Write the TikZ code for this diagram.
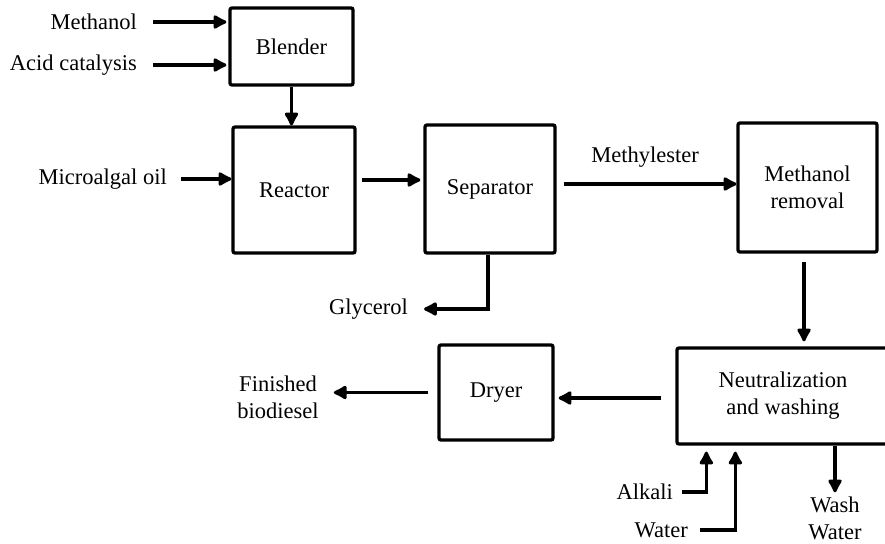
\documentclass[tikz,border=0pt]{standalone}
\usepackage{fontspec}
\setmainfont{Liberation Serif}
\usetikzlibrary{arrows.meta}
\begin{document}
\begin{tikzpicture}[x=1pt,y=-1pt,
  every node/.style={font=\fontsize{22.5}{27}\selectfont},
  box/.style={draw,line width=3.3pt,rounded corners=2pt,align=center,inner sep=0pt},
  lbl/.style={inner sep=0pt,align=center},
  arr/.style={line width=3.3pt,-{Latex[length=16pt,width=17pt,round]}}]
\clip (0,0) rectangle (885,543);
\fill[white] (0,0) rectangle (885,543);
% boxes
\node[box,minimum width=123pt,minimum height=77pt] (blender) at (291.5,46.5) {Blender};
\node[box,minimum width=122pt,minimum height=126pt] (reactor) at (294,190) {Reactor};
\node[box,minimum width=130pt,minimum height=128pt] (separator) at (490,189) {Separator};
\node[box,minimum width=139pt,minimum height=129pt] (mremoval) at (807.5,187.5) {Methanol\\removal};
\node[box,minimum width=212pt,minimum height=96pt] (neutral) at (783,396) {Neutralization\\and washing};
\node[box,minimum width=114pt,minimum height=95pt] (dryer) at (496,392.5) {Dryer};
% labels
\node[lbl,anchor=east] (tMeth) at (137,22) {Methanol};
\node[lbl,anchor=east] (tAcid) at (137,65) {Acid catalysis};
\node[lbl,anchor=east] (tOil) at (167,179) {Microalgal oil};
\node[lbl] (tMest) at (645,157) {Methylester};
\node[lbl,anchor=east] (tGly) at (408,309) {Glycerol};
\node[lbl] (tFin) at (278,397) {Finished\\biodiesel};
\node[lbl,anchor=east] (tAlk) at (673,492) {Alkali};
\node[lbl,anchor=east] (tWat) at (688,530) {Water};
\node[lbl] (tWash) at (835,518) {Wash\\Water};
% connectors
\draw[arr,shorten >=2pt] ([xshift=16pt]tMeth.east) coordinate (a1) -- (blender.west |- a1);
\draw[arr,shorten >=2pt] ([xshift=16pt]tAcid.east) coordinate (a2) -- (blender.west |- a2);
\draw[arr] (blender.south) -- (blender.south |- reactor.north);
\draw[arr] ([xshift=14pt]tOil.east) coordinate (a3) -- (reactor.west |- a3);
\draw[arr,shorten >=3pt] ([xshift=5pt,yshift=10pt]reactor.east) coordinate (a4) -- (separator.west |- a4);
\draw[arr] ([xshift=7pt,yshift=5pt]separator.east) coordinate (a5) -- (mremoval.west |- a5);
\draw[arr,shorten >=2pt] ([xshift=-2pt]separator.south) |- ([xshift=14pt]tGly.east);
\draw[arr,shorten >=5pt] ([xshift=-3.5pt,yshift=-8pt]mremoval.south) coordinate (a6) -- (a6 |- neutral.north);
\draw[arr,shorten >=4pt] ([xshift=-14pt,yshift=-2pt]neutral.west) coordinate (a7) -- (dryer.east |- a7);
\draw[arr] ([xshift=-9pt]dryer.west) coordinate (a8) -- ([xshift=15pt]tFin.east |- a8);
\draw[arr] ([xshift=9pt]tAlk.east) -| ([xshift=31pt,yshift=-6pt]neutral.south west);
\draw[arr] ([xshift=12pt]tWat.east) -| ([xshift=60pt,yshift=-6pt]neutral.south west);
\draw[arr,shorten >=4pt] (tWash.north |- neutral.south) -- (tWash.north);
\end{tikzpicture}
\end{document}
